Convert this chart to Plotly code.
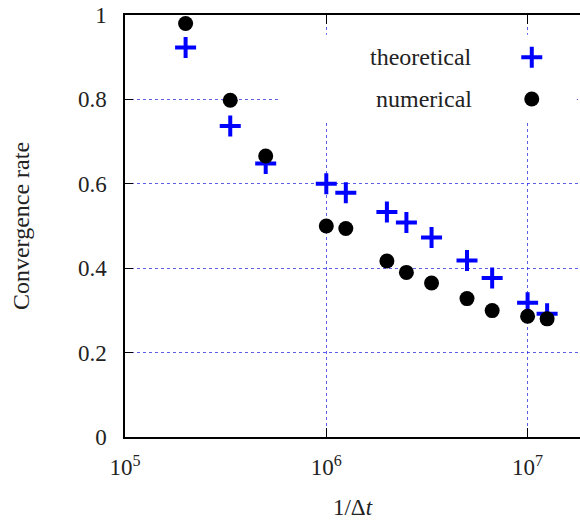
import plotly.graph_objects as go

# ---- data ----
inv_dt = [2e5, 3.333e5, 5e5, 1e6, 1.25e6, 2e6, 2.5e6, 3.333e6, 5e6, 6.667e6, 1e7, 1.25e7]
theoretical = [0.923, 0.737, 0.648, 0.600, 0.579, 0.533, 0.508, 0.4725, 0.418, 0.377, 0.318, 0.292]
numerical = [0.980, 0.798, 0.666, 0.500, 0.494, 0.417, 0.390, 0.365, 0.328, 0.2995, 0.286, 0.280]
legend_labels = ["theoretical", "numerical"]
y_ticks = [0, 0.2, 0.4, 0.6, 0.8, 1]
y_ticktext = ["0", "0.2", "0.4", "0.6", "0.8", "1"]
x_ticks = [1e5, 1e6, 1e7]
x_ticktext = ["10<sup>5</sup>", "10<sup>6</sup>", "10<sup>7</sup>"]
minor_ticks = [m * 10 ** e for e in (5, 6, 7) for m in range(2, 10)]

FONT = "Liberation Serif"
BLUE = "#0000ff"
GRID = "rgba(40,40,230,0.75)"
XR = [5, 5 + 455 / 201.3]

fig = go.Figure()

fig.add_trace(go.Scatter(
    x=inv_dt, y=theoretical, mode="markers", name=legend_labels[0], showlegend=False,
    marker=dict(symbol="cross-thin", size=15, color=BLUE, line=dict(color=BLUE, width=4)),
))
fig.add_trace(go.Scatter(
    x=inv_dt, y=numerical, mode="markers", name=legend_labels[1], showlegend=False,
    marker=dict(symbol="circle", size=15, color="black", line=dict(width=0)),
))

# legend symbols on an overlay axis in [0,1] plot-fraction units
fig.add_trace(go.Scatter(
    x=[0.894], y=[0.900], xaxis="x2", yaxis="y2", mode="markers", showlegend=False,
    marker=dict(symbol="cross-thin", size=15, color=BLUE, line=dict(color=BLUE, width=4)),
    hoverinfo="skip",
))
fig.add_trace(go.Scatter(
    x=[0.894], y=[0.801], xaxis="x2", yaxis="y2", mode="markers", showlegend=False,
    marker=dict(symbol="circle", size=15, color="black", line=dict(width=0)),
    hoverinfo="skip",
))

# white legend box: drawn above the grid, below the data
fx0, fx1 = 0.338, 0.993
fig.add_shape(type="rect", xref="x", yref="y",
              x0=10 ** (XR[0] + fx0 * (XR[1] - XR[0])),
              x1=10 ** (XR[0] + fx1 * (XR[1] - XR[0])),
              y0=0.751, y1=0.953,
              fillcolor="white", line=dict(width=0), layer="between")

for lbl, yy in zip(legend_labels, [0.900, 0.801]):
    fig.add_annotation(text=lbl, xref="x domain", yref="y domain", x=0.767, y=yy,
                       xanchor="right", yanchor="middle", showarrow=False,
                       font=dict(family=FONT, size=24, color="#222"))

TICKFONT = dict(family=FONT, size=23, color="#222")

fig.update_layout(
    width=580, height=520,
    margin=dict(l=125, r=0, t=15, b=83),
    paper_bgcolor="white", plot_bgcolor="white",
    font=dict(family=FONT, size=23, color="#222"),
    xaxis=dict(
        type="log", range=XR, automargin=False,
        tickvals=x_ticks, ticktext=x_ticktext, tickfont=TICKFONT,
        ticks="inside", ticklen=9, tickwidth=1, tickcolor="black",
        showline=True, linecolor="black", linewidth=1.5, mirror="ticks",
        showgrid=True, gridcolor=GRID, griddash="dot", gridwidth=1,
        zeroline=False,
        ticklabelstandoff=9,
        title=dict(text="1/Δ<i>t</i>", standoff=28, font=dict(size=23)),
    ),
    yaxis=dict(
        range=[0, 1], automargin=False, tickvals=y_ticks, ticktext=y_ticktext, tickfont=TICKFONT,
        ticks="inside", ticklen=8, tickcolor="black",
        showline=True, linecolor="black", linewidth=1.5,
        showgrid=True, gridcolor=GRID, griddash="dot", gridwidth=1,
        zeroline=False, ticklabelstandoff=12,
        title=dict(text="Convergence rate", standoff=42, font=dict(size=24)),
    ),
    xaxis2=dict(overlaying="x", range=[0, 1], visible=False, fixedrange=True),
    yaxis2=dict(overlaying="y", range=[0, 1], visible=False, fixedrange=True),
    # minor log ticks, bottom and mirrored on top
    xaxis3=dict(overlaying="x", anchor="y", side="bottom", type="log", range=XR,
                automargin=False,
                tickvals=minor_ticks, ticks="inside", ticklen=5, tickcolor="black",
                showline=True, linecolor="black", linewidth=1.5, mirror="ticks",
                showgrid=False, zeroline=False,
                showticklabels=False, fixedrange=True),
)

fig.write_html("out.html")
